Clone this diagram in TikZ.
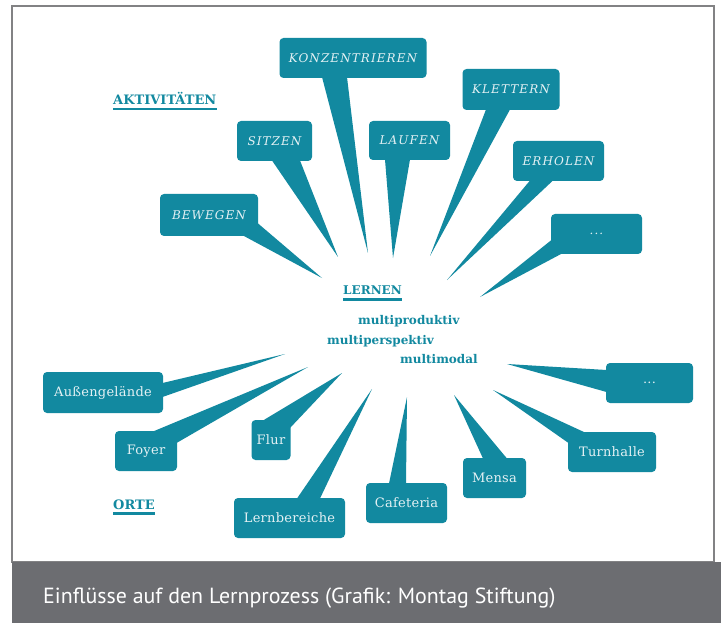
\documentclass[tikz,border=0pt]{standalone}
\usepackage{fontspec}
\setmainfont{DejaVu Serif}
\newfontfamily\capfont{PT Sans}
\usetikzlibrary{calc}
\definecolor{tealc}{RGB}{18,137,160}
\definecolor{boxtext}{RGB}{228,241,244}
\definecolor{capgray}{RGB}{108,109,113}
\definecolor{framegray}{RGB}{130,130,132}
\begin{document}
\begin{tikzpicture}[x=1pt,y=-1pt,
  act/.style={fill=tealc, rounded corners=4pt, text=boxtext, inner sep=0pt,
    font=\fontsize{12}{14}\selectfont\itshape\addfontfeature{LetterSpace=9}},
  place/.style={fill=tealc, rounded corners=4pt, text=boxtext, inner sep=0pt,
    font=\fontsize{13}{15}\selectfont\addfontfeature{LetterSpace=2}},
  tailfill/.style={fill=tealc},
  heading/.style={text=tealc, inner sep=0pt, anchor=base west, font=\fontsize{13}{15}\selectfont\bfseries},
  multi/.style={text=tealc, inner sep=0pt, anchor=base west, font=\fontsize{12}{14}\selectfont\bfseries},
  uline/.style={draw=tealc, line width=2.5pt}
]
\useasboundingbox (0,0) rectangle (721,623);
\fill[white] (0,0) rectangle (721,623);
\draw[framegray, line width=1.2pt] (12,6) rectangle (714,562);
\fill[capgray] (12,562) rectangle (721,623);
\node[anchor=base west, inner sep=0pt, text=white, font=\capfont\fontsize{21.9}{26}\selectfont] (cap) at (43,603) {Einflüsse auf den Lernprozess (Grafik: Montag Stiftung)};

% tips
\coordinate (tK) at (368,253);
\coordinate (tKl) at (430,256);
\coordinate (tS) at (338,257);
\coordinate (tL) at (393,258);
\coordinate (tE) at (447,280);
\coordinate (tB) at (322,278);
\coordinate (tD1) at (480,297);
\coordinate (tA) at (285,354);
\coordinate (tF) at (308,367);
\coordinate (tFl) at (342,373);
\coordinate (tLb) at (372,389);
\coordinate (tC) at (407,397);
\coordinate (tM) at (454,395);
\coordinate (tT) at (493,390);
\coordinate (tD2) at (507,364);

% activity boxes
\node[act, minimum width=147pt, minimum height=40pt] (konz) at (353,58) {KONZENTRIEREN};
\node[act, minimum width=97pt, minimum height=41pt] (klet) at (511,89.5) {KLETTERN};
\node[act, minimum width=75pt, minimum height=40pt] (sitz) at (274.5,141) {SITZEN};
\node[act, minimum width=81pt, minimum height=39pt] (lauf) at (409.5,140.5) {LAUFEN};
\node[act, minimum width=91pt, minimum height=40pt] (erho) at (558.5,161) {ERHOLEN};
\node[act, minimum width=98pt, minimum height=42pt] (bewe) at (209,215) {BEWEGEN};
\node[act, minimum width=91pt, minimum height=40pt] (dots1) at (596.5,234) {...};

% place boxes
\node[place, minimum width=120pt, minimum height=41pt] (auss) at (103,392.5) {Außengelände};
\node[place, minimum width=62pt, minimum height=40pt] (foye) at (146,451) {Foyer};
\node[place, minimum width=39pt, minimum height=40pt] (flur) at (271,440) {Flur};
\node[place, minimum width=111pt, minimum height=40pt] (lern) at (289.5,518) {Lernbereiche};
\node[place, minimum width=81pt, minimum height=40pt] (cafe) at (406.5,503) {Cafeteria};
\node[place, minimum width=63pt, minimum height=40pt] (mens) at (494.5,478) {Mensa};
\node[place, minimum width=88pt, minimum height=40pt] (turn) at (612,452) {Turnhalle};
\node[place, minimum width=87pt, minimum height=40pt] (dots2) at (649.5,383) {...};

% tails
\fill[tailfill] ($(konz)+(-31,19)$) -- ($(konz)+(-6,19)$) -- (tK) -- cycle;
\fill[tailfill] ($(klet)+(-25,20)$) -- ($(klet)+(-1,20)$) -- (tKl) -- cycle;
\fill[tailfill] ($(sitz)+(-2.5,19.5)$) -- ($(sitz)+(25.5,19.5)$) -- (tS) -- cycle;
\fill[tailfill] ($(lauf)+(-24.5,19)$) -- ($(lauf)+(0.5,19)$) -- (tL) -- cycle;
\fill[tailfill] ($(erho)+(-28.5,19.5)$) -- ($(erho)+(-5.5,19.5)$) -- (tE) -- cycle;
\fill[tailfill] ($(bewe)+(34,20.5)$) -- ($(bewe)+(48.5,8)$) -- (tB) -- cycle;
\fill[tailfill] ($(dots1)+(-45,6)$) -- ($(dots1)+(-34.5,19.5)$) -- (tD1) -- cycle;
\fill[tailfill] ($(auss)+(59.5,-9.5)$) -- ($(auss)+(59.5,4.5)$) -- (tA) -- cycle;
\fill[tailfill] ($(foye)+(7,-19.5)$) -- ($(foye)+(30.5,-8)$) -- (tF) -- cycle;
\fill[tailfill] ($(flur)+(-8,-19.5)$) -- ($(flur)+(19,-12)$) -- (tFl) -- cycle;
\fill[tailfill] ($(lern)+(7.5,-19.5)$) -- ($(lern)+(30.5,-19.5)$) -- (tLb) -- cycle;
\fill[tailfill] ($(cafe)+(-17.5,-19.5)$) -- ($(cafe)+(-0.5,-19.5)$) -- (tC) -- cycle;
\fill[tailfill] ($(mens)+(-11.5,-19.5)$) -- ($(mens)+(12.5,-19.5)$) -- (tM) -- cycle;
\fill[tailfill] ($(turn)+(-43.5,-9)$) -- ($(turn)+(-27,-19.5)$) -- (tT) -- cycle;
\fill[tailfill] ($(dots2)+(-43,-13)$) -- ($(dots2)+(-43,9)$) -- (tD2) -- cycle;

% headings
\node[heading] (akt) at (113,104.5) {AKTIVITÄTEN};
\draw[uline] ([yshift=-4.5pt]akt.base west) -- ([yshift=-4.5pt]akt.base east);
\node[heading] (orte) at (113,509) {ORTE};
\draw[uline] ([yshift=-4.5pt]orte.base west) -- ([yshift=-4.5pt]orte.base east);
\node[heading, font=\fontsize{12}{14}\selectfont\bfseries] (lernen) at (343,294.5) {LERNEN};
\draw[uline] ([yshift=-5pt]lernen.base west) -- ([yshift=-5pt]lernen.base east);
\node[multi] (mp) at (358,324) {multiproduktiv};
\node[multi] (mpe) at (327,344) {multiperspektiv};
\node[multi] (mm) at (400,363) {multimodal};
\end{tikzpicture}
\end{document}
